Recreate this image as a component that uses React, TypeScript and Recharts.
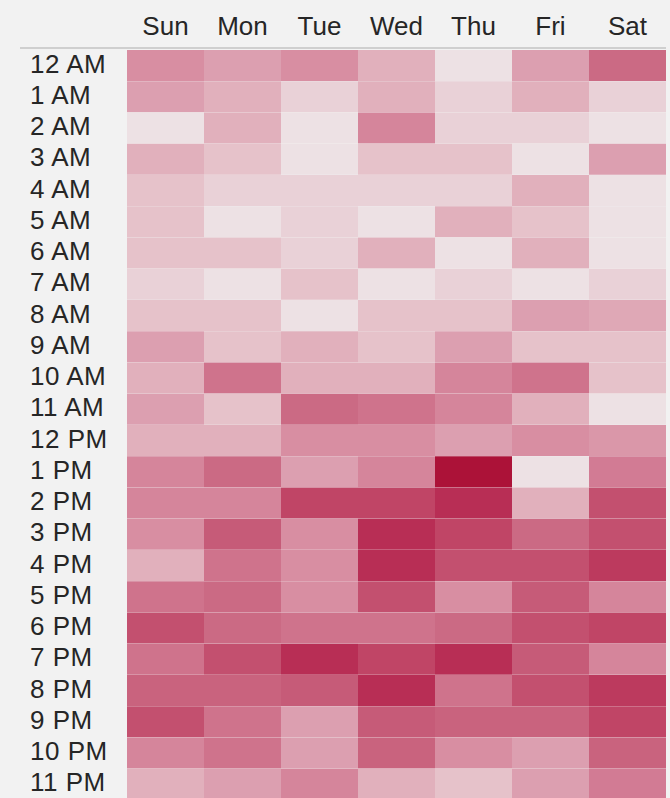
import React from 'react';
import { BarChart, Bar, XAxis, YAxis, Cell } from 'recharts';

const days = ['Sun', 'Mon', 'Tue', 'Wed', 'Thu', 'Fri', 'Sat'];
const hours = [
  '12 AM', '1 AM', '2 AM', '3 AM', '4 AM', '5 AM', '6 AM', '7 AM', '8 AM', '9 AM', '10 AM', '11 AM',
  '12 PM', '1 PM', '2 PM', '3 PM', '4 PM', '5 PM', '6 PM', '7 PM', '8 PM', '9 PM', '10 PM', '11 PM',
];

const sun = [50, 40, 0, 30, 20, 20, 20, 10, 20, 40, 30, 40, 30, 55, 55, 50, 30, 65, 85, 65, 75, 85, 55, 30];
const mon = [40, 30, 30, 20, 10, 0, 20, 0, 20, 20, 65, 20, 30, 70, 55, 80, 65, 70, 70, 85, 75, 65, 65, 40];
const tue = [50, 10, 0, 0, 10, 10, 10, 20, 0, 30, 30, 70, 50, 40, 90, 50, 50, 50, 65, 100, 80, 40, 40, 55];
const wed = [30, 30, 55, 20, 10, 0, 30, 0, 20, 20, 30, 65, 50, 55, 90, 100, 100, 85, 65, 90, 100, 80, 75, 30];
const thu = [0, 10, 10, 20, 10, 30, 0, 10, 20, 40, 55, 55, 40, 110, 100, 90, 85, 50, 70, 100, 65, 75, 50, 20];
const fri = [40, 30, 10, 0, 30, 20, 30, 0, 40, 20, 65, 30, 50, 0, 30, 70, 85, 80, 85, 80, 85, 75, 40, 40];
const sat = [70, 10, 0, 40, 0, 0, 0, 10, 35, 20, 20, 0, 45, 60, 85, 85, 95, 55, 90, 55, 95, 90, 75, 60];

const dayValues = [sun, mon, tue, wed, thu, fri, sat];

// colour scale stops (every 10 units)
const stops = [
  '#ede1e4', '#e9d1d7', '#e6c2ca', '#e1b0bc', '#dc9fb0', '#d88ea2',
  '#d27b94', '#cb6a84', '#c65b78', '#c04566', '#b82e55', '#ac1238',
];

function hexToRgb(h: string) {
  return [parseInt(h.slice(1, 3), 16), parseInt(h.slice(3, 5), 16), parseInt(h.slice(5, 7), 16)];
}

function colorFor(v: number) {
  const p = Math.max(0, Math.min(110, v)) / 10;
  const i = Math.min(Math.floor(p), stops.length - 2);
  const t = p - i;
  const a = hexToRgb(stops[i]);
  const b = hexToRgb(stops[i + 1]);
  const c = a.map((x, k) => Math.round(x + (b[k] - x) * t));
  return `rgb(${c[0]},${c[1]},${c[2]})`;
}

const data = hours.map((h) => {
  const row: Record<string, any> = { hour: h };
  days.forEach((d) => {
    row[d] = 1;
  });
  return row;
});

const FONT = '"Liberation Sans", Arial, sans-serif';

const DayTick = (props: any) => {
  const { x, payload } = props;
  return (
    <text x={x} y={35} textAnchor="middle" fontFamily={FONT} fontSize={26} fill="#262626">
      {days[Math.floor(payload.value)]}
    </text>
  );
};

const HourTick = (props: any) => {
  const { y, payload } = props;
  return (
    <text
      x={30}
      y={y + 7}
      textAnchor="start"
      fontFamily={FONT}
      fontSize={26}
      letterSpacing={0.5}
      fill="#262626"
    >
      {payload.value}
    </text>
  );
};

export default function App() {
  return (
    <div
      style={{
        position: 'absolute',
        left: 0,
        top: 0,
        width: 670,
        height: 798,
        overflow: 'hidden',
        background: '#f2f2f2',
      }}
    >
      <div
        style={{
          position: 'absolute',
          left: 20,
          top: 47,
          width: 646,
          height: 2,
          background: '#cfcfcf',
        }}
      />
      <div style={{ position: 'absolute', left: 0, top: 0 }}>
        <BarChart
          width={670}
          height={800}
          data={data}
          layout="vertical"
          barCategoryGap={0}
          margin={{ top: 0, right: 4, left: 0, bottom: 0 }}
        >
          <XAxis
            type="number"
            orientation="top"
            domain={[0, 7]}
            ticks={[0.5, 1.5, 2.5, 3.5, 4.5, 5.5, 6.5]}
            axisLine={false}
            tickLine={false}
            height={50}
            tick={<DayTick />}
            interval={0}
          />
          <YAxis
            type="category"
            dataKey="hour"
            width={127}
            axisLine={false}
            tickLine={false}
            tick={<HourTick />}
            interval={0}
          />
          {days.map((d, di) => (
            <Bar key={d} dataKey={d} stackId="a" isAnimationActive={false}>
              {data.map((_, i) => (
                <Cell key={i} fill={colorFor(dayValues[di][i])} />
              ))}
            </Bar>
          ))}
        </BarChart>
      </div>
    </div>
  );
}
